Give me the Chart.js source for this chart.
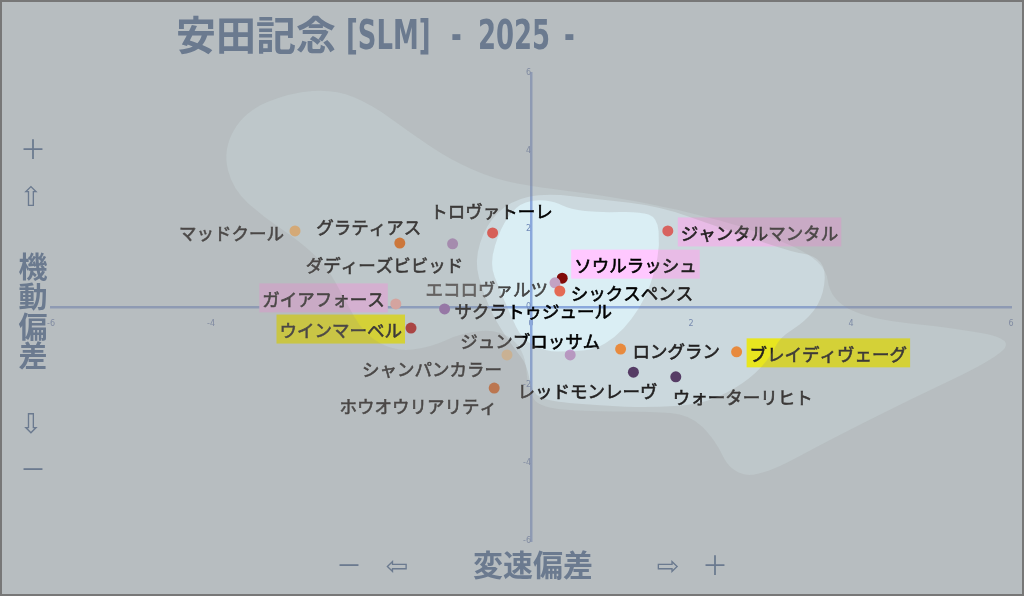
<!DOCTYPE html>
<html>
<head>
<meta charset="utf-8">
<script src="https://cdn.jsdelivr.net/npm/chart.js@4.4.1/dist/chart.umd.min.js"></script>
<style>
html, body { margin: 0; padding: 0; background: #b7bec0; }
#wrap { position: relative; width: 1024px; height: 596px; overflow: hidden; }
#c { position: absolute; left: 0; top: 0; }
.t { position: absolute; color: #6b7a8f; white-space: pre; line-height: 1; transform: translate(-50%, -50%); }
.ti { position: absolute; color: #6b7a8f; white-space: pre; line-height: 1; }
.tk { font: bold 40px "Noto Sans CJK JP", sans-serif; }
.tl { font: bold 40px "DejaVu Sans Condensed", sans-serif; transform: scaleX(0.72); transform-origin: 0 0; }
.sym { font: 26px "Noto Sans CJK JP", sans-serif; }
.arr { font: 27px "DejaVu Sans", sans-serif; }
.ax { font: bold 29px "Noto Sans CJK JP", sans-serif; }
</style>
</head>
<body>
<div id="wrap">
  <canvas id="c" width="1024" height="596"></canvas>
  <div class="ti tk" style="left:176px;top:4px">安田記念</div>
  <div class="ti tl" style="left:346px;top:12px">[SLM]</div>
  <div class="ti tl" style="left:451px;top:12px">-</div>
  <div class="ti tl" style="left:478px;top:12px">2025</div>
  <div class="ti tl" style="left:564px;top:12px">-</div>
  <div class="t sym" style="left:33px;top:147px">＋</div>
  <div class="t arr" style="left:31px;top:196px">⇧</div>
  <div class="t ax" style="left:33px;top:265px">機</div>
  <div class="t ax" style="left:33px;top:295px">動</div>
  <div class="t ax" style="left:33px;top:325px">偏</div>
  <div class="t ax" style="left:33px;top:354px">差</div>
  <div class="t arr" style="left:31px;top:423px">⇩</div>
  <div class="t sym" style="left:33px;top:467px">－</div>
  <div class="t sym" style="left:349px;top:563px">－</div>
  <div class="t arr" style="left:397px;top:565px">⇦</div>
  <div class="t ax" style="left:533px;top:563px;font-size:30px">変速偏差</div>
  <div class="t arr" style="left:668px;top:565px">⇨</div>
  <div class="t sym" style="left:715px;top:563px">＋</div>
</div>
<script>
// horses and their deviations
var horses = ["マッドクール", "グラティアス", "ダディーズビビッド", "トロヴァトーレ", "ジャンタルマンタル", "ソウルラッシュ",
  "エコロヴァルツ", "シックスペンス", "ガイアフォース", "サクラトゥジュール", "ウインマーベル", "ジュンブロッサム",
  "シャンパンカラー", "ロングラン", "ブレイディヴェーグ", "レッドモンレーヴ", "ウォーターリヒト", "ホウオウリアリティ"];
var speedDev = [-2.95, -1.64, -0.98, -0.48, 1.71, 0.39, 0.30, 0.36, -1.69, -1.08, -1.50, 0.49, -0.30, 1.12, 2.57, 1.28, 1.81, -0.46];
var moveDev = [1.95, 1.64, 1.62, 1.90, 1.95, 0.74, 0.62, 0.41, 0.08, -0.05, -0.54, -1.23, -1.23, -1.08, -1.15, -1.67, -1.79, -2.08];
var tickValues = [-6, -4, -2, 0, 2, 4, 6];

// density contours behind the points (data units)
var outerContour = [[-3.85, 4.04], [-3.58, 5.01], [-3.01, 5.50], [-2.45, 5.58], [-1.99, 5.19], [-1.51, 4.47], [-1.01, 3.78],
  [-0.45, 3.27], [0.11, 3.06], [0.86, 2.88], [1.86, 2.50], [2.86, 1.94], [3.68, 1.17], [3.74, 0.19], [4.24, -0.32],
  [5.24, -0.52], [6.05, -0.83], [5.74, -1.40], [4.74, -2.37], [3.74, -3.40], [2.86, -4.37], [2.49, -4.22], [2.30, -3.40],
  [1.99, -2.76], [1.49, -2.68], [0.86, -2.68], [0.11, -2.60], [-0.04, -2.12], [-0.08, -1.09], [-0.39, -0.58], [-0.85, -0.65],
  [-1.26, -1.04], [-1.70, -1.14], [-2.08, -0.71], [-2.33, 0.19], [-2.55, 1.04], [-2.89, 1.68], [-3.33, 2.29], [-3.73, 3.01]];
var middleContour = [[-0.71, 1.17], [-0.56, 2.12], [-0.26, 2.72], [0.18, 2.92], [0.86, 2.76], [1.61, 2.58], [2.36, 2.04],
  [3.24, 1.42], [3.55, 1.32], [3.69, 0.96], [3.64, 0.19], [3.43, -0.37], [3.11, -0.78], [3.01, -1.22], [2.80, -1.73],
  [2.49, -2.17], [2.11, -2.50], [1.49, -2.58], [0.86, -2.53], [0.24, -2.42], [0.01, -2.22], [-0.05, -1.47], [-0.20, -1.09],
  [-0.44, -0.37], [-0.59, 0.32]];
var innerContour = [[-0.52, 1.10], [-0.38, 2.04], [-0.18, 2.60], [0.05, 2.76], [0.30, 2.70], [0.49, 2.50], [0.86, 2.42],
  [1.36, 2.45], [1.58, 2.29], [1.61, 1.60], [1.55, 0.91], [1.43, 0.24], [1.26, -0.32], [1.05, -0.78], [0.80, -1.09],
  [0.49, -1.14], [0.18, -1.14], [-0.11, -0.83], [-0.26, -0.19], [-0.39, 0.45]];

// styles
var dotColors = ["#ffbc6b", "#f36907", "#b18ac6", "#e8524a", "#eb5852", "#800a08", "#c3a2c3", "#e46a55", "#ffb4ad",
  "#9869b6", "#b91617", "#c19bcf", "#ffd59d", "#ff8a28", "#ff8a28", "#44265a", "#44265a", "#e36117"];
// [dx, dy, align, box colour] in pixels from the dot
var labelPlace = {
  "マッドクール": [-11, 1, "right", null],
  "グラティアス": [-31, -17, "center", null],
  "ダディーズビビッド": [-68, 21, "center", null],
  "トロヴァトーレ": [-1, -23, "center", null],
  "ジャンタルマンタル": [13, 1, "left", "#ffc8ff"],
  "ソウルラッシュ": [12, -14, "left", "#ffc8ff"],
  "エコロヴァルツ": [-7, 6, "right", null],
  "シックスペンス": [11, 1, "left", null],
  "ガイアフォース": [-11, -6, "right", "#ffc8ff"],
  "サクラトゥジュール": [10, 1, "left", null],
  "ウインマーベル": [-9, 1, "right", "#ffff00"],
  "ジュンブロッサム": [-40, -15, "center", null],
  "シャンパンカラー": [-75, 13, "center", null],
  "ロングラン": [12, 1, "left", null],
  "ブレイディヴェーグ": [13, 1, "left", "#ffff00"],
  "レッドモンレーヴ": [-46, 18, "center", null],
  "ウォーターリヒト": [67, 20, "center", null],
  "ホウオウリアリティ": [-76, 17, "center", null]
};
var shadeLayers = [[innerContour, 0.22], [middleContour, 0.23], [outerContour, 0.167]];

function contourPath(ctx, pts, xs, ys) {
  var p = pts.map(function (q) { return [xs.getPixelForValue(q[0]), ys.getPixelForValue(q[1])]; });
  var n = p.length;
  ctx.moveTo((p[n - 1][0] + p[0][0]) / 2, (p[n - 1][1] + p[0][1]) / 2);
  for (var i = 0; i < n; i++) {
    var a = p[i], b = p[(i + 1) % n];
    ctx.quadraticCurveTo(a[0], a[1], (a[0] + b[0]) / 2, (a[1] + b[1]) / 2);
  }
  ctx.closePath();
}

var backdrop = {
  id: "backdrop",
  beforeDraw: function (chart) {
    var ctx = chart.ctx;
    ctx.save();
    ctx.fillStyle = "#daeef4";
    ctx.fillRect(0, 0, chart.width, chart.height);
    ctx.restore();
  },
  afterDatasetsDraw: function (chart) {
    var ctx = chart.ctx, xs = chart.scales.x, ys = chart.scales.y;
    ctx.save();
    ctx.font = "17.5px 'Noto Sans CJK JP', sans-serif";
    ctx.textBaseline = "middle";
    ctx.lineWidth = 0.6;
    horses.forEach(function (name, i) {
      var pl = labelPlace[name];
      var px = xs.getPixelForValue(speedDev[i]) + pl[0];
      var py = ys.getPixelForValue(moveDev[i]) + pl[1];
      var w = ctx.measureText(name).width;
      var left = pl[2] == "left" ? px : (pl[2] == "right" ? px - w : px - w / 2);
      if (pl[3]) {
        ctx.fillStyle = pl[3];
        ctx.fillRect(left - 3, py - 14.5, w + 6, 29);
      }
      ctx.fillStyle = ctx.strokeStyle = name == "エコロヴァルツ" ? "#444" : "#000";
      ctx.textAlign = "left";
      ctx.fillText(name, left, py + 1);
      ctx.strokeText(name, left, py + 1);
    });
    // grey veil, thinner where the density is higher
    shadeLayers.forEach(function (layer) {
      ctx.beginPath();
      ctx.rect(0, 0, chart.width, chart.height);
      contourPath(ctx, layer[0], xs, ys);
      ctx.fillStyle = "rgba(148,143,140," + layer[1] + ")";
      ctx.fill("evenodd");
    });
    ctx.restore();
  },
  afterDraw: function (chart) {
    var ctx = chart.ctx;
    ctx.save();
    ctx.strokeStyle = "#777";
    ctx.lineWidth = 2;
    ctx.strokeRect(1, 1, chart.width - 2, chart.height - 2);
    ctx.restore();
  }
};

var axisOpts = function (pos) {
  return {
    type: "linear",
    min: -6,
    max: 6,
    position: pos,
    grid: { display: false },
    border: { display: true, color: "#8aa8dc", width: 2.5 },
    ticks: { font: { size: 8, family: "DejaVu Sans" }, color: "#6f88b8", padding: 4 },
    afterBuildTicks: function (s) { s.ticks = tickValues.map(function (v) { return { value: v }; }); }
  };
};

var chart = new Chart(document.getElementById("c"), {
  type: "scatter",
  data: {
    datasets: [{
      data: speedDev.map(function (v, i) { return { x: v, y: moveDev[i] }; }),
      backgroundColor: dotColors,
      borderWidth: 0,
      pointRadius: 5.5
    }]
  },
  options: {
    responsive: false,
    animation: false,
    layout: { padding: { left: 51, right: 13, top: 73, bottom: 55 } },
    plugins: { legend: { display: false }, tooltip: { enabled: false } },
    scales: { x: axisOpts({ y: 0 }), y: axisOpts({ x: 0 }) }
  },
  plugins: [backdrop]
});
</script>
</body>
</html>
